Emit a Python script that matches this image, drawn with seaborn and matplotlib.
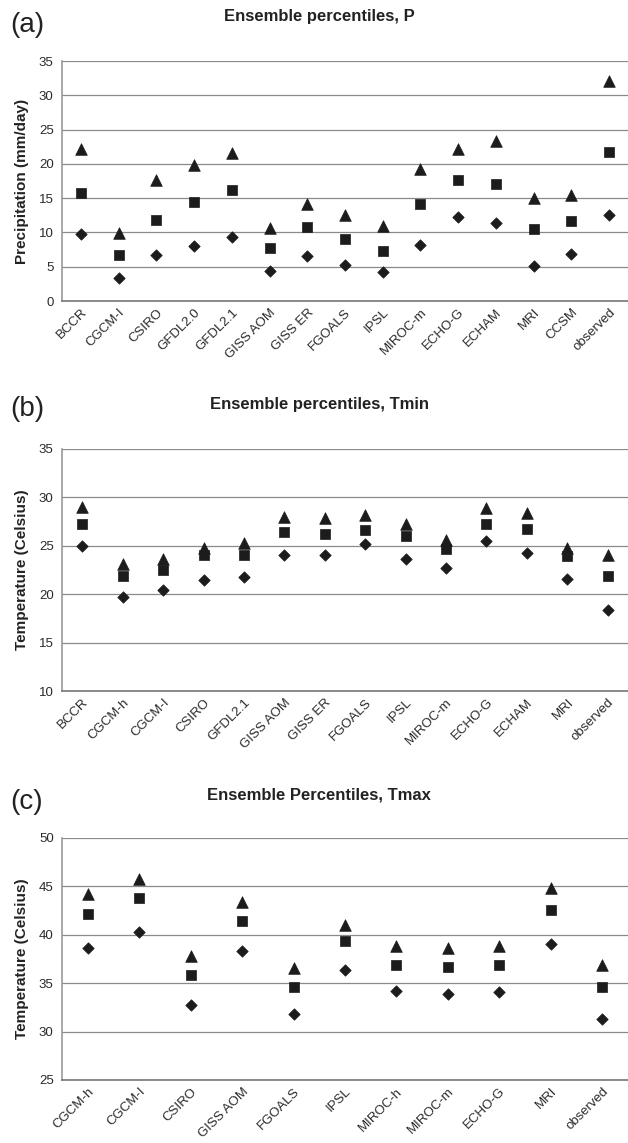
import matplotlib
matplotlib.use("Agg")
import matplotlib.pyplot as plt
import seaborn as sns
import pandas as pd
from matplotlib.ticker import FixedLocator

# ---------------- data ----------------
p_models = ["BCCR", "CGCM-I", "CSIRO", "GFDL2.0", "GFDL2.1", "GISS AOM", "GISS ER",
            "FGOALS", "IPSL", "MIROC-m", "ECHO-G", "ECHAM", "MRI", "CCSM", "observed"]
p_upper = [22.2, 9.9, 17.7, 19.9, 21.6, 10.7, 14.2, 12.6, 10.9, 19.2, 22.2, 23.4, 15.0, 15.5, 32.1]
p_median = [15.8, 6.7, 11.8, 14.4, 16.2, 7.7, 10.8, 9.0, 7.3, 14.1, 17.6, 17.1, 10.5, 11.7, 21.8]
p_lower = [9.7, 3.4, 6.7, 8.0, 9.4, 4.4, 6.5, 5.3, 4.2, 8.2, 12.3, 11.4, 5.1, 6.8, 12.6]

tmin_models = ["BCCR", "CGCM-h", "CGCM-I", "CSIRO", "GFDL2.1", "GISS AOM", "GISS ER",
               "FGOALS", "IPSL", "MIROC-m", "ECHO-G", "ECHAM", "MRI", "observed"]
tmin_upper = [29.0, 23.1, 23.6, 24.8, 25.3, 28.0, 27.9, 28.2, 27.3, 25.6, 28.9, 28.4, 24.8, 24.0]
tmin_median = [27.3, 21.9, 22.5, 24.0, 24.0, 26.4, 26.2, 26.6, 26.0, 24.7, 27.3, 26.7, 23.9, 21.9]
tmin_lower = [25.0, 19.7, 20.4, 21.5, 21.8, 24.0, 24.0, 25.2, 23.6, 22.7, 25.5, 24.3, 21.6, 18.4]

tmax_models = ["CGCM-h", "CGCM-I", "CSIRO", "GISS AOM", "FGOALS", "IPSL", "MIROC-h",
               "MIROC-m", "ECHO-G", "MRI", "observed"]
tmax_upper = [44.2, 45.8, 37.8, 43.4, 36.6, 41.0, 38.8, 38.6, 38.8, 44.8, 36.9]
tmax_median = [42.1, 43.8, 35.8, 41.4, 34.6, 39.4, 36.9, 36.7, 36.9, 42.6, 34.6]
tmax_lower = [38.6, 40.3, 32.7, 38.3, 31.8, 36.4, 34.2, 33.9, 34.1, 39.0, 31.3]

titles = ["Ensemble percentiles, P", "Ensemble percentiles, Tmin", "Ensemble Percentiles, Tmax"]
panel_tags = ["(a)", "(b)", "(c)"]
ylabels = ["Precipitation (mm/day)", "Temperature (Celsius)", "Temperature (Celsius)"]
yranges = [(0, 35), (10, 35), (25, 50)]

# ---------------- style ----------------
sns.set_style("white")
plt.rcParams["font.family"] = ["Liberation Sans", "DejaVu Sans"]

W, H = 628, 1143
fig = plt.figure(figsize=(W / 100, H / 100), dpi=100)

# axes boxes in pixels: (top, bottom)
boxes = [(61, 301), (449, 691), (838, 1080)]
title_y = [17, 405, 795]
tag_y = [25, 409, 802]
left_px = 62

panels = [
    (p_models, p_upper, p_median, p_lower),
    (tmin_models, tmin_upper, tmin_median, tmin_lower),
    (tmax_models, tmax_upper, tmax_median, tmax_lower),
]

mk = "#1c1c1c"
for i, (models, up, med, lo) in enumerate(panels):
    top, bot = boxes[i]
    ax = fig.add_axes([left_px / W, 1 - bot / H, (W - left_px) / W, (bot - top) / H])
    df = pd.DataFrame({
        "model": models * 3,
        "value": up + med + lo,
        "pct": ["upper"] * len(models) + ["median"] * len(models) + ["lower"] * len(models),
    })
    specs = {"upper": ("^", 70), "median": ("s", 46), "lower": ("D", 34)}
    for pct, (m, s) in specs.items():
        sub = df[df["pct"] == pct]
        sns.scatterplot(data=sub, x="model", y="value", marker=m, s=s, color=mk,
                        edgecolor=mk, linewidth=0.5, ax=ax, legend=False, zorder=3)
    n = len(models)
    ax.set_xlim(-0.5, n - 0.5)
    ax.set_ylim(*yranges[i])
    ax.set_yticks(range(yranges[i][0], yranges[i][1] + 1, 5))
    ax.yaxis.grid(True, color="#8a8a8a", linewidth=0.9)
    ax.set_axisbelow(True)
    ax.xaxis.set_minor_locator(FixedLocator([k - 0.5 for k in range(n + 1)]))
    ax.tick_params(axis="x", which="major", length=0, pad=4, labelsize=9.5, labelcolor="#2a2a2a")
    ax.tick_params(axis="x", which="minor", length=4, width=1, color="#777777", direction="out")
    ax.tick_params(axis="y", which="major", length=4, width=1, color="#999999", direction="out",
                   labelsize=9.5, labelcolor="#2a2a2a", pad=2)
    ax.set_xticks(range(n))
    ax.set_xticklabels(models, rotation=45, ha="right", rotation_mode="anchor")
    for sp in ["top", "right"]:
        ax.spines[sp].set_visible(False)
    ax.spines["left"].set_color("#9a9a9a")
    ax.spines["left"].set_linewidth(1.2)
    ax.spines["bottom"].set_color("#777777")
    ax.spines["bottom"].set_linewidth(1.2)
    ax.set_xlabel("")
    ax.set_ylabel(ylabels[i], fontsize=11, fontweight="bold", color="#222222")
    ax.yaxis.set_label_coords(-(left_px - 29) / (W - left_px), 0.5)
    fig.text(319 / W, 1 - title_y[i] / H, titles[i], ha="center", va="center",
             fontsize=12, fontweight="bold", color="#222222")
    fig.text(10 / W, 1 - tag_y[i] / H, panel_tags[i], ha="left", va="center",
             fontsize=20, color="#222222")

fig.savefig("out.png", dpi=100, facecolor="white")
